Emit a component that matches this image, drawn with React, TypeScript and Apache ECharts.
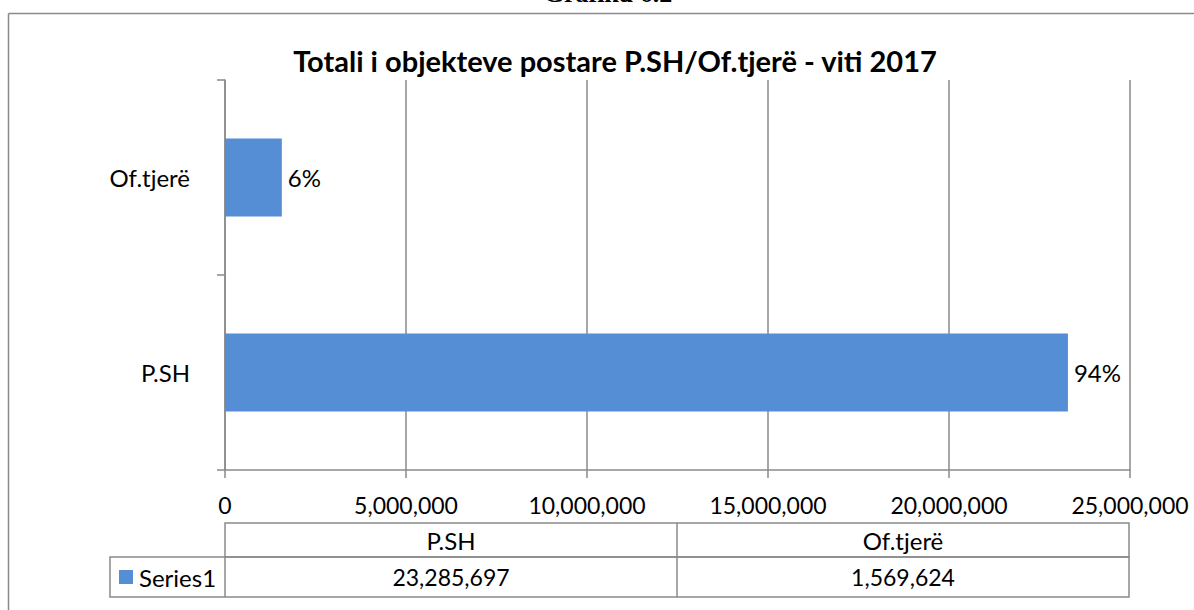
import React, { useEffect, useRef } from "react";
import * as echarts from "echarts";

const chartTitle = "Totali i objekteve postare P.SH/Of.tjerë - viti 2017";
const topCaption = "Grafiku 6.2";
const categories = ["P.SH", "Of.tjerë"];
const values = [23285697, 1569624];
const seriesName = "Series1";
const axisMin = 0;
const axisMax = 25000000;
const axisStep = 5000000;

const FONT = "Lato, 'Open Sans', sans-serif";
const GRAY = "#8a8a8a";
const BLUE = "#558ed5";

const fmt = (v: number) => v.toLocaleString("en-US");

export default function App() {
  const ref = useRef<HTMLDivElement>(null);
  useEffect(() => {
    if (!ref.current) return;
    const chart = echarts.init(ref.current, undefined, { renderer: "svg" });
    const total = values.reduce((a, b) => a + b, 0);
    const pct = values.map((v) => Math.round((v / total) * 100) + "%");

    const gridL = 225, gridR = 1130, gridT = 80, gridB = 470;
    const colX = [110, 225, 677, 1129];
    const rowY = [523, 557, 597];

    const graphic: any[] = [
      // clipped caption at the very top
      {
        type: "text",
        x: 608,
        y: -20,
        style: {
          text: topCaption,
          font: "bold 26px 'Liberation Serif', serif",
          fill: "#000",
          align: "center",
          verticalAlign: "top",
        },
      },
      // outer border (top + left)
      { type: "line", shape: { x1: 8.5, y1: 13.5, x2: 1200, y2: 13.5 }, style: { stroke: GRAY, lineWidth: 1.5 } },
      { type: "line", shape: { x1: 8.5, y1: 13.5, x2: 8.5, y2: 620 }, style: { stroke: GRAY, lineWidth: 1.5 } },
      // table header row
      { type: "rect", shape: { x: colX[1], y: rowY[0], width: colX[3] - colX[1], height: rowY[1] - rowY[0] }, style: { fill: "none", stroke: GRAY, lineWidth: 1.5 } },
      { type: "line", shape: { x1: colX[2], y1: rowY[0], x2: colX[2], y2: rowY[2] }, style: { stroke: GRAY, lineWidth: 1.5 } },
      // series row
      { type: "rect", shape: { x: colX[0], y: rowY[1], width: colX[3] - colX[0], height: rowY[2] - rowY[1] }, style: { fill: "none", stroke: GRAY, lineWidth: 1.5 } },
      { type: "line", shape: { x1: colX[1], y1: rowY[1], x2: colX[1], y2: rowY[2] }, style: { stroke: GRAY, lineWidth: 1.5 } },
      // legend key
      { type: "rect", shape: { x: 119, y: 570, width: 14, height: 14 }, style: { fill: BLUE } },
      {
        type: "text",
        x: 139,
        y: (rowY[1] + rowY[2]) / 2,
        style: { text: seriesName, font: `24px ${FONT}`, fill: "#000", align: "left", verticalAlign: "middle" },
      },
    ];
    categories.forEach((c, i) => {
      const cx = (colX[i + 1] + colX[i + 2]) / 2;
      graphic.push({
        type: "text",
        x: cx,
        y: (rowY[0] + rowY[1]) / 2,
        style: { text: c, font: `24px ${FONT}`, fill: "#000", align: "center", verticalAlign: "middle" },
      });
      graphic.push({
        type: "text",
        x: cx,
        y: (rowY[1] + rowY[2]) / 2,
        style: { text: fmt(values[i]), font: `23px ${FONT}`, fill: "#000", align: "center", verticalAlign: "middle" },
      });
    });

    chart.setOption({
      animation: false,
      title: {
        text: chartTitle,
        left: 610,
        textAlign: "center",
        top: 41,
        textStyle: { fontFamily: FONT, fontWeight: "bold", fontSize: 29, color: "#000" },
      },
      grid: { left: gridL, right: 1194 - gridR, top: gridT, bottom: 610 - gridB, containLabel: false },
      xAxis: {
        type: "value",
        min: axisMin,
        max: axisMax,
        interval: axisStep,
        axisLine: { show: true, lineStyle: { color: GRAY, width: 1.5 } },
        axisTick: { show: true, length: 8, lineStyle: { color: GRAY, width: 1.5 } },
        splitLine: { show: true, lineStyle: { color: GRAY, width: 1.5 } },
        axisLabel: { margin: 23, color: "#000", fontSize: 23, fontFamily: FONT, formatter: (v: number) => fmt(v) },
      },
      yAxis: {
        type: "category",
        data: categories,
        axisLine: { show: true, lineStyle: { color: GRAY, width: 1.5 } },
        axisTick: { show: true, length: 8, lineStyle: { color: GRAY, width: 1.5 } },
        axisLabel: { margin: 35, color: "#000", fontSize: 24, fontFamily: FONT },
      },
      series: [
        {
          name: seriesName,
          type: "bar",
          data: values,
          barWidth: 78,
          itemStyle: { color: BLUE },
          label: {
            show: true,
            position: "right",
            distance: 6,
            color: "#000",
            fontSize: 24,
            fontFamily: FONT,
            formatter: (p: any) => pct[p.dataIndex],
          },
        },
      ],
      graphic,
    });
    return () => chart.dispose();
  }, []);
  return (
    <div
      ref={ref}
      style={{ position: "fixed", left: 0, top: 0, width: 1194, height: 610, background: "#fff" }}
    />
  );
}
